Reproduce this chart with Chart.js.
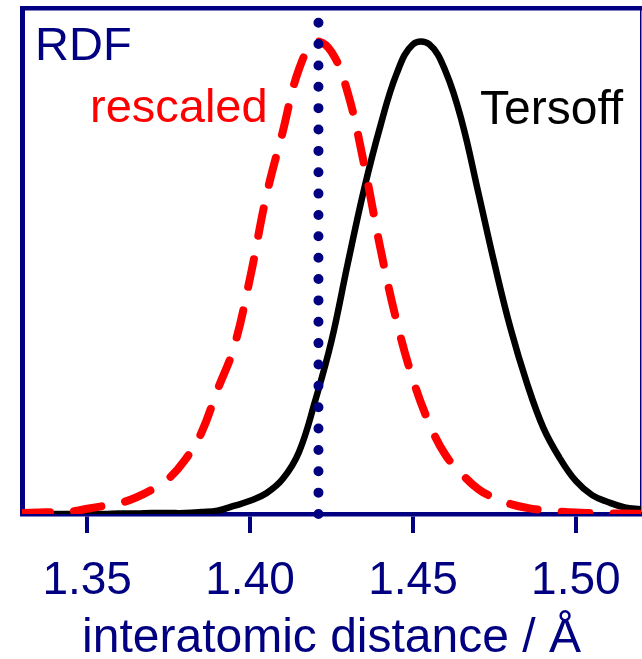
<!DOCTYPE html>
<html><head><meta charset="utf-8">
<script src="https://cdn.jsdelivr.net/npm/chart.js@4.4.1/dist/chart.umd.min.js"></script>
<style>html,body{margin:0;padding:0;background:#fff;} canvas{display:block;}</style>
</head><body>
<canvas id="c" width="642" height="659"></canvas>
<script>
// interatomic distance grid (Å)
const DIST = [1.330,1.335,1.340,1.345,1.350,1.355,1.360,1.365,1.370,1.375,1.380,1.385,1.390,1.395,1.400,1.405,1.410,1.415,1.420,1.425,1.430,1.435,1.440,1.445,1.450,1.455,1.460,1.465,1.470,1.475,1.480,1.485,1.490,1.495,1.500,1.505,1.510,1.515,1.520];
// RDF, rescaled potential (red dashed)
const RESCALED = [0.002,0.003,0.004,0.005,0.011,0.017,0.023,0.035,0.052,0.075,0.114,0.171,0.263,0.352,0.500,0.674,0.809,0.942,1.000,0.979,0.892,0.741,0.563,0.408,0.285,0.192,0.125,0.085,0.053,0.034,0.021,0.013,0.008,0.005,0.003,0.002,0.001,0.001,0.000];
// RDF, Tersoff potential (black solid)
const TERSOFF = [0,0,0,0,0,0,0.001,0.001,0.002,0.002,0.002,0.004,0.007,0.017,0.028,0.044,0.074,0.131,0.240,0.367,0.531,0.688,0.822,0.933,0.995,0.995,0.938,0.832,0.683,0.531,0.392,0.277,0.183,0.119,0.070,0.040,0.025,0.014,0.010];
const TICK_VALUES = [1.35, 1.40, 1.45, 1.50];
const MARKER_X = 1.421;          // dotted reference line
const X_RANGE = [1.33, 1.52];
const Y_RANGE = [0, 1.072];
const LABELS = ['RDF', 'rescaled', 'Tersoff'];
const X_TITLE = 'interatomic distance / Å';

const NAVY = '#000080';
const FONT = "'Liberation Sans', Arial, Helvetica, sans-serif";

const annotPlugin = {
  id: 'annot',
  afterDatasetsDraw(chart) {
    const ctx = chart.ctx;
    const items = [
      {t: LABELS[0], x: 35,  y: 60,  c: NAVY,      s: 47},
      {t: LABELS[1], x: 90,  y: 122, c: '#ff0000', s: 47},
      {t: LABELS[2], x: 480, y: 124, c: '#000000', s: 48}
    ];
    ctx.save();
    ctx.textAlign = 'left';
    ctx.textBaseline = 'alphabetic';
    items.forEach(it => {
      ctx.font = it.s + 'px ' + FONT;
      ctx.fillStyle = it.c;
      ctx.fillText(it.t, it.x, it.y);
    });
    ctx.restore();
  }
};

const toPts = ys => DIST.map((d, i) => ({x: d, y: ys[i]}));

new Chart(document.getElementById('c'), {
  type: 'scatter',
  data: {
    datasets: [
      {
        label: 'reference',
        data: [{x: MARKER_X, y: Y_RANGE[0]}, {x: MARKER_X, y: Y_RANGE[1]}],
        showLine: true, pointRadius: 0,
        borderColor: NAVY, borderWidth: 10,
        borderDash: [0, 21.36], borderCapStyle: 'round',
        clip: false, order: 1
      },
      {
        label: 'rescaled',
        data: toPts(RESCALED),
        showLine: true, pointRadius: 0, tension: 0.4,
        borderColor: '#ff0000', borderWidth: 8,
        borderDash: [28, 24], borderCapStyle: 'round',
        order: 2
      },
      {
        label: 'Tersoff',
        data: toPts(TERSOFF),
        showLine: true, pointRadius: 0, tension: 0.4,
        borderColor: '#000000', borderWidth: 6.5,
        order: 3
      }
    ]
  },
  options: {
    responsive: false,
    devicePixelRatio: 1,
    animation: false,
    events: [],
    layout: {padding: {left: 22, top: 8, right: 1, bottom: 0}},
    plugins: {legend: {display: false}, tooltip: {enabled: false}},
    scales: {
      x: {
        type: 'linear', position: 'bottom', min: X_RANGE[0], max: X_RANGE[1],
        afterBuildTicks: s => { s.ticks = TICK_VALUES.map(v => ({value: v})); },
        afterFit: s => { s.height = 145; },
        ticks: {
          color: NAVY, font: {family: FONT, size: 46}, padding: 21,
          maxRotation: 0, autoSkip: false,
          callback: v => Number(v).toFixed(2)
        },
        grid: {display: true, drawOnChartArea: false, drawTicks: true, tickLength: 19,
               tickWidth: 4, tickColor: NAVY, color: NAVY, lineWidth: 4},
        border: {display: true, color: NAVY, width: 4.5},
        title: {display: true, text: X_TITLE, color: NAVY,
                font: {family: FONT, size: 48, lineHeight: 0.85}, padding: {top: 0, bottom: 0}}
      },
      y: {
        type: 'linear', position: 'left', min: Y_RANGE[0], max: Y_RANGE[1],
        afterFit: s => { s.width = 0; },
        ticks: {display: false}, grid: {display: false},
        border: {display: true, color: NAVY, width: 5}
      },
      x2: {
        type: 'linear', axis: 'x', position: 'top', min: 0, max: 1,
        afterFit: s => { s.height = 0; },
        ticks: {display: false}, grid: {display: false},
        border: {display: true, color: NAVY, width: 4.5}
      },
      y2: {
        type: 'linear', axis: 'y', position: 'right', min: 0, max: 1,
        afterFit: s => { s.width = 0; },
        ticks: {display: false}, grid: {display: false},
        border: {display: true, color: NAVY, width: 1.5}
      }
    }
  },
  plugins: [annotPlugin]
});
</script>
</body></html>
